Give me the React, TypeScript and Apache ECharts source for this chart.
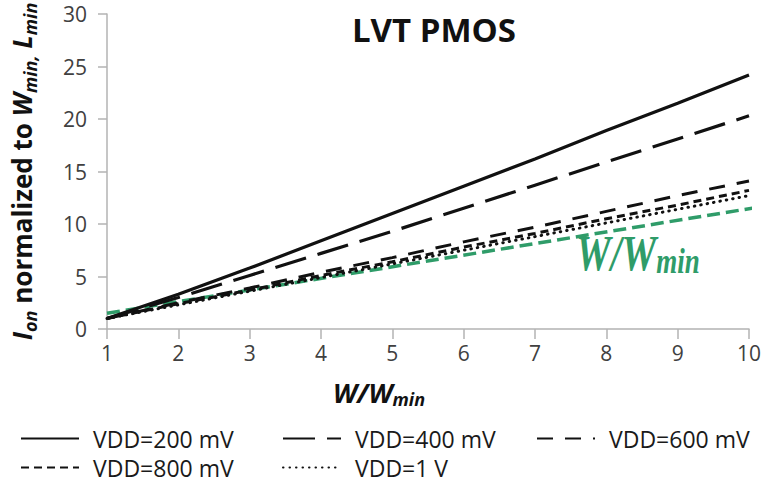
import React, { useEffect, useRef } from "react";
import * as echarts from "echarts";

const widthRatio = [1, 2, 3, 4, 5, 6, 7, 8, 9, 10];
const vdd200 = [1.0, 3.3, 5.8, 8.4, 11.0, 13.6, 16.2, 18.9, 21.5, 24.2];
const vdd400 = [1.0, 3.0, 5.1, 7.2, 9.3, 11.5, 13.7, 15.9, 18.1, 20.3];
const vdd600 = [1.0, 2.5, 3.9, 5.4, 6.8, 8.3, 9.7, 11.2, 12.7, 14.1];
const vdd800 = [1.0, 2.4, 3.7, 5.1, 6.4, 7.8, 9.1, 10.5, 11.8, 13.2];
const vdd1v = [1.0, 2.3, 3.6, 4.9, 6.2, 7.5, 8.8, 10.1, 11.4, 12.7];
const refX = [1, 10.4];
const refY = [1.5, 11.9];
const seriesNames = ["VDD=200 mV", "VDD=400 mV", "VDD=600 mV", "VDD=800 mV", "VDD=1 V"];

const FONT = "'Open Sans', sans-serif";
const GREEN = "#2f9c69";

function pairs(xs: number[], ys: number[]) {
  return xs.map((x, i) => [x, ys[i]]);
}

export default function App() {
  const ref = useRef<HTMLDivElement>(null);
  useEffect(() => {
    if (!ref.current) return;
    const chart = echarts.init(ref.current, undefined, { renderer: "svg" });
    const lineSeries = (name: string, ys: number[], type: any, width: number, cap: string = "butt") => ({
      name,
      type: "line",
      data: pairs(widthRatio, ys),
      symbol: "none",
      showSymbol: false,
      lineStyle: { color: "#111", width, type, cap },
      itemStyle: { color: "#111" },
    });
    const legendBase = {
      itemWidth: 58,
      itemHeight: 14,
      padding: 0,
      itemStyle: { color: "transparent", borderWidth: 0, opacity: 0 },
      textStyle: { fontFamily: FONT, fontSize: 23, lineHeight: 22, color: "#1a1a1a", padding: [0, 0, 0, 9] },
    };
    chart.setOption({
      animation: false,
      title: {
        text: "LVT PMOS",
        left: 429,
        top: 8,
        textAlign: "center",
        textStyle: { fontFamily: FONT, fontWeight: "bold", fontSize: 33, color: "#111" },
      },
      grid: { left: 107, right: 28, top: 14, bottom: 154, containLabel: false, outerBoundsMode: "none" },
      xAxis: {
        type: "value",
        min: 1,
        max: 10,
        interval: 1,
        splitLine: { show: false },
        axisLine: { lineStyle: { color: "#b3b3b3", width: 1.5 } },
        axisTick: { show: true, length: 10, lineStyle: { color: "#b3b3b3", width: 1.5 } },
        axisLabel: { fontFamily: FONT, fontSize: 21, color: "#404040", margin: 13 },
        name: "{w|W/W}{s|min}",
        nameLocation: "middle",
        nameGap: 47,
        nameTextStyle: {
          padding: [0, 98, 0, 0],
          rich: {
            w: { fontFamily: FONT, fontSize: 27, fontWeight: "bold", fontStyle: "italic", color: "#111", lineHeight: 32, verticalAlign: "middle" },
            s: { fontFamily: FONT, fontSize: 18, fontWeight: "bold", fontStyle: "italic", color: "#111", lineHeight: 32, verticalAlign: "bottom" },
          },
        },
      },
      yAxis: {
        type: "value",
        min: 0,
        max: 30,
        interval: 5,
        splitLine: { show: false },
        axisLine: { show: true, lineStyle: { color: "#b3b3b3", width: 1.5 } },
        axisTick: { show: true, length: 9, lineStyle: { color: "#b3b3b3", width: 1.5 } },
        axisLabel: { fontFamily: FONT, fontSize: 21, color: "#404040", margin: 20 },
        name: "{i|I}{s|on}{n| normalized to }{i|W}{s|min,}{i| L}{s|min}",
        nameLocation: "middle",
        nameRotate: 90,
        nameGap: 68,
        nameTextStyle: {
          rich: {
            i: { fontFamily: FONT, fontSize: 26, fontWeight: "bold", fontStyle: "italic", color: "#111", lineHeight: 34, verticalAlign: "middle" },
            n: { fontFamily: FONT, fontSize: 26, fontWeight: "bold", color: "#111", lineHeight: 34, verticalAlign: "middle" },
            s: { fontFamily: FONT, fontSize: 18, fontWeight: "bold", fontStyle: "italic", color: "#111", lineHeight: 34, verticalAlign: "bottom" },
          },
        },
      },
      legend: [
        { ...legendBase, data: [seriesNames[0]], left: 20, top: 427 },
        { ...legendBase, data: [seriesNames[1]], left: 282, top: 427 },
        { ...legendBase, data: [seriesNames[2]], left: 536, top: 427 },
        { ...legendBase, data: [seriesNames[3]], left: 20, top: 456 },
        { ...legendBase, data: [seriesNames[4]], left: 282, top: 456 },
      ],
      graphic: [
        {
          type: "group",
          x: 576,
          y: 279,
          scaleY: 1.3,
          children: [
            {
              type: "text",
              x: 0,
              y: 0,
              style: {
                text: "{a|W/W}{b|min}",
                verticalAlign: "bottom",
                rich: {
                  a: { fontFamily: "'Liberation Serif', serif", fontSize: 39, fontWeight: "bold", fontStyle: "italic", fill: GREEN, lineHeight: 40, verticalAlign: "bottom" },
                  b: { fontFamily: "'Liberation Serif', serif", fontSize: 27, fontWeight: "bold", fontStyle: "italic", fill: GREEN, lineHeight: 40, verticalAlign: "bottom" },
                },
              },
            },
          ],
        },
      ],
      series: [
        {
          name: "W/Wmin",
          type: "line",
          data: pairs(refX, refY),
          symbol: "none",
          clip: false,
          z: 1,
          lineStyle: { color: GREEN, width: 3.5, type: [13, 6] },
        },
        lineSeries(seriesNames[0], vdd200, "solid", 3.2),
        lineSeries(seriesNames[1], vdd400, [32, 12], 3.2),
        lineSeries(seriesNames[2], vdd600, [16, 12], 3),
        lineSeries(seriesNames[3], vdd800, [8, 5], 3),
        lineSeries(seriesNames[4], vdd1v, [0.5, 6], 3, "round"),
      ],
    });
    return () => chart.dispose();
  }, []);
  return <div ref={ref} style={{ width: 777, height: 483, position: "absolute", left: 0, top: 0 }} />;
}
